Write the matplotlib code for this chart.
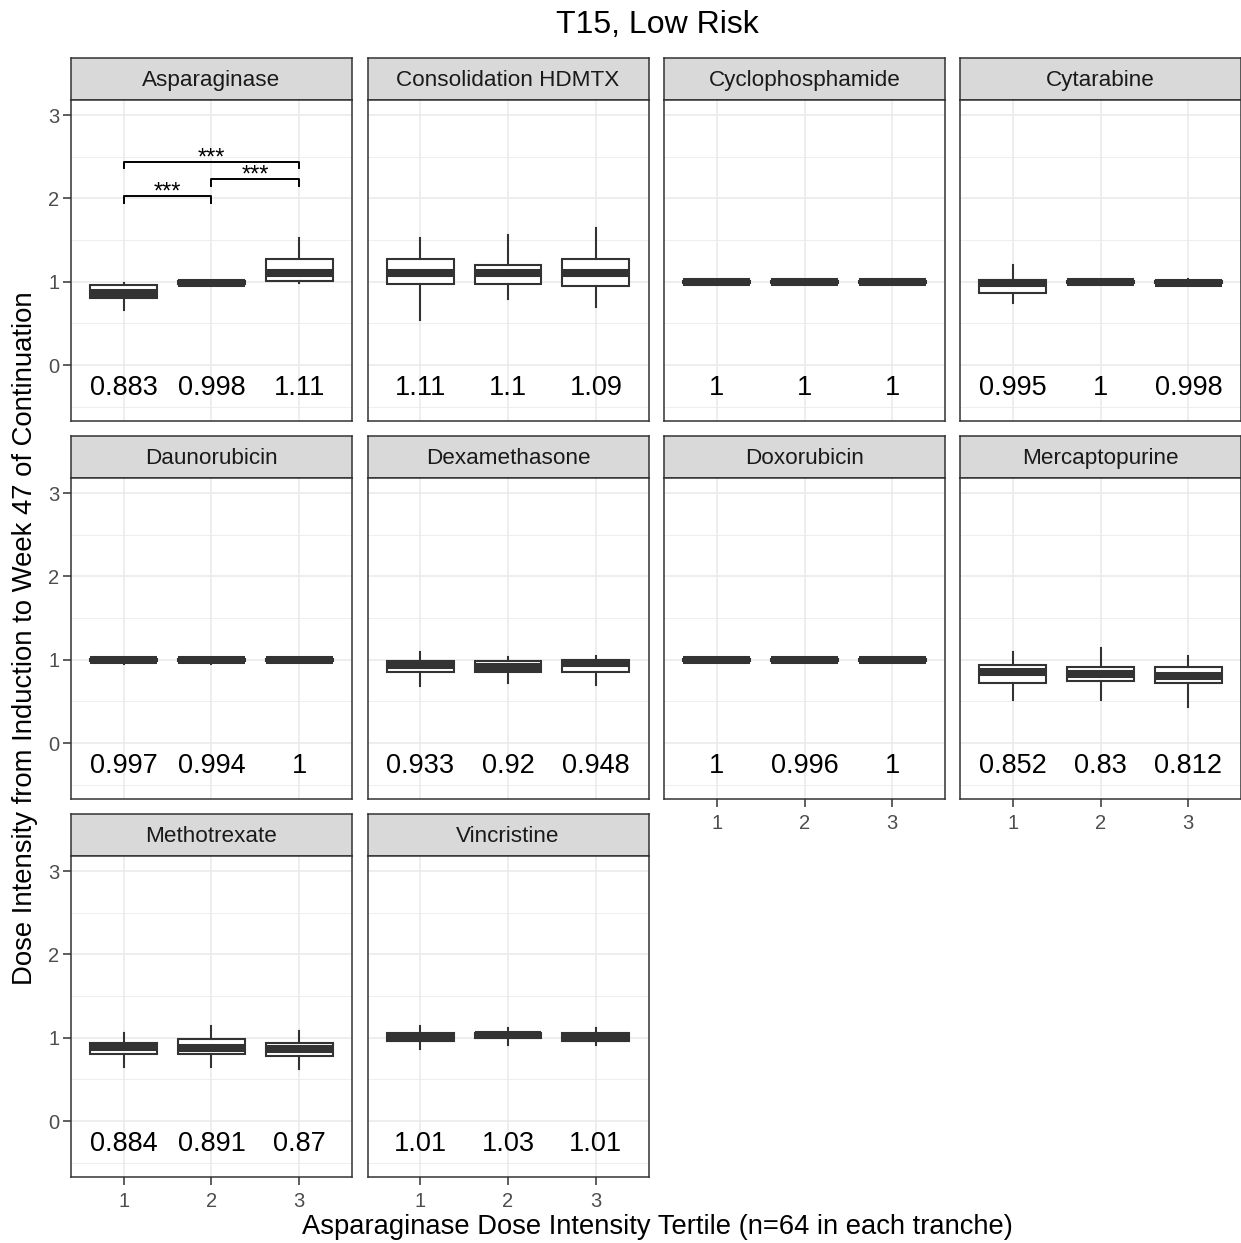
import matplotlib
matplotlib.use("Agg")
import matplotlib.pyplot as plt

plt.rcParams['font.family'] = ['Liberation Sans', 'DejaVu Sans']

drugs = ["Asparaginase", "Consolidation HDMTX", "Cyclophosphamide", "Cytarabine",
         "Daunorubicin", "Dexamethasone", "Doxorubicin", "Mercaptopurine",
         "Methotrexate", "Vincristine"]
tertiles = [1, 2, 3]

# box statistics per drug, one value per tertile
whis_lo = [[0.66, 0.97, 0.99], [0.54, 0.79, 0.70], [0.975, 0.975, 0.975], [0.75, 0.99, 0.98],
           [0.95, 0.95, 0.99], [0.68, 0.72, 0.70], [0.99, 0.99, 0.99], [0.52, 0.52, 0.43],
           [0.65, 0.65, 0.62], [0.86, 0.91, 0.91]]
q1 = [[0.81, 0.97, 1.01], [0.97, 0.97, 0.95], [0.99, 0.99, 0.99], [0.86, 0.99, 0.98],
      [0.99, 0.99, 0.99], [0.85, 0.85, 0.85], [0.99, 0.99, 0.99], [0.72, 0.75, 0.72],
      [0.80, 0.80, 0.78], [0.96, 1.00, 0.96]]
med = [[0.865, 0.99, 1.10], [1.10, 1.10, 1.10], [1.0, 1.0, 1.0], [0.99, 1.0, 0.99],
       [1.0, 1.0, 1.0], [0.935, 0.91, 0.965], [1.0, 1.0, 1.0], [0.855, 0.83, 0.80],
       [0.89, 0.875, 0.87], [1.0, 1.03, 1.0]]
q3 = [[0.96, 1.01, 1.27], [1.27, 1.20, 1.27], [1.01, 1.01, 1.01], [1.02, 1.01, 1.01],
      [1.01, 1.01, 1.01], [0.98, 0.98, 1.0], [1.01, 1.01, 1.01], [0.94, 0.91, 0.91],
      [0.94, 0.98, 0.94], [1.055, 1.055, 1.055]]
whis_hi = [[0.98, 1.01, 1.53], [1.53, 1.56, 1.65], [1.01, 1.01, 1.01], [1.2, 1.01, 1.03],
           [1.01, 1.01, 1.01], [1.09, 1.03, 1.05], [1.01, 1.01, 1.01], [1.09, 1.14, 1.05],
           [1.06, 1.14, 1.08], [1.14, 1.12, 1.12]]
mean_labels = [["0.883", "0.998", "1.11"], ["1.11", "1.1", "1.09"], ["1", "1", "1"],
               ["0.995", "1", "0.998"], ["0.997", "0.994", "1"], ["0.933", "0.92", "0.948"],
               ["1", "0.996", "1"], ["0.852", "0.83", "0.812"], ["0.884", "0.891", "0.87"],
               ["1.01", "1.03", "1.01"]]

# significance brackets (Asparaginase panel only)
sig_pairs = [(1, 2), (2, 3), (1, 3)]
sig_y = [2.03, 2.23, 2.44]
sig_text = ["***", "***", "***"]

W, H = 1241, 1243
fig = plt.figure(figsize=(W / 100, H / 100), dpi=100)


def rect(x, y, w, h):
    return [x / W, 1 - (y + h) / H, w / W, h / H]


col_x = [71, 367.5, 664, 960]
strip_top = [58, 436, 814]
strip_h = 42
panel_h = 321
panel_w = 281
dark = '#333333'

# which panels show x tick labels
bottom_panels = [6, 7, 8, 9]

for i, drug in enumerate(drugs):
    r, c = divmod(i, 4)
    x0 = col_x[c]
    # strip
    sax = fig.add_axes(rect(x0, strip_top[r], panel_w, strip_h))
    sax.set_facecolor('#D9D9D9')
    sax.set_xticks([])
    sax.set_yticks([])
    for s in sax.spines.values():
        s.set_color(dark)
        s.set_linewidth(1.1)
    sax.text(0.5, 0.47, drug, ha='center', va='center', fontsize=16.2, color='#1A1A1A',
             transform=sax.transAxes)

    ax = fig.add_axes(rect(x0, strip_top[r] + strip_h, panel_w, panel_h))
    ax.set_xlim(0.4, 3.6)
    ax.set_ylim(-0.67, 3.18)
    ax.set_yticks([0, 1, 2, 3])
    ax.set_yticks([-0.5, 0.5, 1.5, 2.5], minor=True)
    ax.set_xticks(tertiles)
    ax.grid(True, which='major', color='#EBEBEB', lw=1.2, zorder=0)
    ax.grid(True, which='minor', axis='y', color='#EBEBEB', lw=0.6, zorder=0)
    ax.set_axisbelow(True)
    for s in ax.spines.values():
        s.set_color(dark)
        s.set_linewidth(1.1)
    ax.tick_params(which='major', length=5.5, width=1.1, color=dark, labelcolor='#4D4D4D',
                   labelsize=14.5)
    ax.tick_params(axis='x', pad=5.5)
    ax.tick_params(axis='y', pad=3)
    ax.tick_params(which='minor', length=0)
    if c != 0:
        ax.tick_params(axis='y', length=0, labelleft=False)
    if i not in bottom_panels:
        ax.tick_params(axis='x', length=0, labelbottom=False)

    stats = []
    for k in range(3):
        stats.append(dict(whislo=whis_lo[i][k], q1=q1[i][k], med=med[i][k],
                          q3=q3[i][k], whishi=whis_hi[i][k]))
    ax.bxp(stats, positions=tertiles, widths=0.76, showfliers=False, showcaps=False,
           patch_artist=True,
           boxprops=dict(facecolor='white', edgecolor=dark, lw=1.5),
           whiskerprops=dict(color=dark, lw=1.5),
           medianprops=dict(color=dark, lw=5.8, solid_capstyle='butt'),
           manage_ticks=False, zorder=3)

    for k in range(3):
        ax.text(tertiles[k], -0.28, mean_labels[i][k], ha='center', va='center',
                fontsize=19.5, color='black', zorder=4)

    if i == 0:
        for (a, b), yy, t in zip(sig_pairs, sig_y, sig_text):
            ax.plot([a, a, b, b], [yy - 0.08, yy, yy, yy - 0.08], color='black', lw=1.4,
                    zorder=4)
            ax.text((a + b) / 2, yy - 0.03, t, ha='center', va='baseline', fontsize=17,
                    color='black')

fig.text(657 / W, 1 - 25 / H, "T15, Low Risk", ha='center', va='center', fontsize=23)
fig.text(25 / W, 1 - 638 / H, "Dose Intensity from Induction to Week 47 of Continuation",
         ha='center', va='center', rotation=90, fontsize=19.8)
fig.text(657 / W, 1 - 1227 / H, "Asparaginase Dose Intensity Tertile (n=64 in each tranche)",
         ha='center', va='center', fontsize=19.7)

fig.savefig("out.png", dpi=100)
